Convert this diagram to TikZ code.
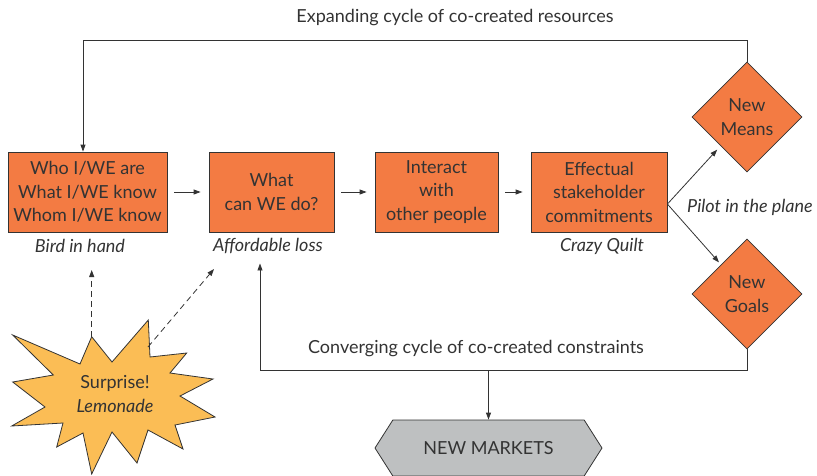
\documentclass[tikz,border=0pt]{standalone}
\usepackage{fontspec}
\setmainfont{Lato}
\usetikzlibrary{arrows.meta,shapes.geometric,shapes.symbols}
\definecolor{efforange}{HTML}{F37B43}
\definecolor{burstyellow}{HTML}{FBBD55}
\definecolor{marketgray}{HTML}{BEC0C1}
\definecolor{inkgray}{HTML}{333333}

\begin{document}
\begin{tikzpicture}[x=1pt,y=-1pt,>={Triangle[length=7pt,width=5pt]},line width=0.8pt,draw=inkgray,
    every node/.style={text=inkgray,font=\fontsize{18}{23.5}\selectfont,align=center},
    box/.style={rectangle,draw=inkgray,fill=efforange,minimum height=80pt,inner sep=0pt},
    choice/.style={diamond,draw=inkgray,fill=efforange,minimum width=110pt,minimum height=110pt,inner sep=0pt},
    tag/.style={font=\fontsize{18}{20}\selectfont\itshape}]
  \useasboundingbox (0,0) rectangle (817,475);

    % effectual process
    \node[box,minimum width=159pt] (who) at (87.5,192) {Who I/WE are\\What I/WE know\\Whom I/WE know};
    \node[box,minimum width=125pt] (what) at (271.5,192) {What\\can WE do?};
    \node[box,minimum width=123pt] (interact) at (436.5,192) {Interact\\with\\other people};
    \node[box,minimum width=136pt] (effect) at (599,192) {Effectual\\stakeholder\\commitments};
    \node[choice] (means) at (747,117) {New\\Means};
    \node[choice] (goals) at (747,294) {New\\Goals};
    \node[signal,signal to=west and east,signal pointer angle=115,draw=inkgray,fill=marketgray,
      minimum width=227pt,minimum height=56pt] (markets) at (488.5,448) {NEW MARKETS};

    % principles
    \node[tag] (bird) at (80,246) {Bird in hand};
    \node[tag] (afford) at (268,246) {Affordable loss};
    \node[tag] (quilt) at (602,246) {Crazy Quilt};
    \node[tag] (pilot) at (750,207) {Pilot in the plane};

    % cycles
    \node (expand) at (455,18) {Expanding cycle of co-created resources};
    \node (converge) at (476,349) {Converging cycle of co-created constraints};
    \coordinate (topleft) at (83,40);
    \coordinate (botleft) at (260,370);

  \foreach \from/\to in {who/what,what/interact,interact/effect}
  {
    \draw[->,shorten <=7pt,shorten >=8pt] (\from) -- (\to);
    }
    \draw[->,shorten >=5pt] (effect.-10) -- (means);
    \draw[->,shorten >=3pt] (effect.-10) -- (goals);
    \draw[->] (means.north) |- (topleft) -- (topleft |- who.north);
    \draw[->,shorten >=6pt] (goals.south) |- (botleft) -- (botleft |- afford.south);
    \draw[->] (markets.north |- botleft) -- (markets.north);

    % surprise
    \draw[draw=inkgray,fill=burstyellow] (91.7,336.7) coordinate (bursttop) -- (112,362) -- (148.3,320) -- (150,357)
      -- (186.7,353) -- (170,373) -- (213,379) -- (180,396) -- (215,417) -- (175,425)
      -- (183,449) -- (148,430) -- (137,463) -- (112,432) -- (91.7,474) -- (83,433)
      -- (56.7,447) -- (63,423) -- (11.7,426) -- (45,407) -- (12.7,382) -- (53.3,375)
      -- (12.7,335) -- (80,364) -- cycle;
    \node (surprise) at (115,394) {Surprise!\\\textit{Lemonade}};
    \coordinate (burstright) at (148,347);
    \coordinate (lossend) at (214,269);
    \draw[->,dash pattern=on 6pt off 4pt] (bursttop) -- (bursttop |- 0,270);
    \draw[->,dash pattern=on 6pt off 4pt] (burstright) -- (lossend);
    \end{tikzpicture}
\end{document}
